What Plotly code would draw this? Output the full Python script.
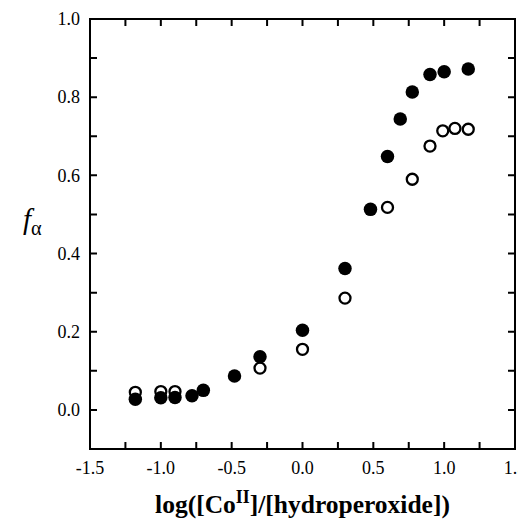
import plotly.graph_objects as go

# Data
filled_x = [-1.18, -1.0, -0.90, -0.78, -0.70, -0.48, -0.30, 0.0, 0.30, 0.48, 0.60, 0.69, 0.775, 0.90, 1.0, 1.17]
filled_y = [0.027, 0.031, 0.032, 0.036, 0.050, 0.087, 0.136, 0.204, 0.362, 0.513, 0.648, 0.744, 0.813, 0.858, 0.865, 0.872]

open_x = [-1.18, -1.0, -0.90, -0.30, 0.0, 0.30, 0.60, 0.775, 0.90, 0.99, 1.076, 1.17]
open_y = [0.045, 0.047, 0.047, 0.107, 0.155, 0.286, 0.518, 0.590, 0.675, 0.714, 0.720, 0.718]

# Axis ranges and ticks (labelled every other tick)
x_range = [-1.5, 1.5]
y_range = [-0.1, 1.0]
x_tickvals = [-1.5, -1.25, -1.0, -0.75, -0.5, -0.25, 0.0, 0.25, 0.5, 0.75, 1.0, 1.25, 1.5]
x_ticktext = ["-1.5", "", "-1.0", "", "-0.5", "", "0.0", "", "0.5", "", "1.0", "", "1.5"]
y_tickvals = [-0.1, 0.0, 0.1, 0.2, 0.3, 0.4, 0.5, 0.6, 0.7, 0.8, 0.9, 1.0]
y_ticktext = ["", "0.0", "", "0.2", "", "0.4", "", "0.6", "", "0.8", "", "1.0"]

font = "Liberation Serif"
W, H = 526, 523
ML, MR, MT, MB = 82, 19, 11, 82
PW, PH = W - ML - MR, H - MT - MB
TICKLEN = 7   # px

fig = go.Figure()

# open circles first so the filled ones sit on top where they overlap
fig.add_trace(go.Scatter(
    x=open_x, y=open_y, mode="markers",
    marker=dict(symbol="circle", size=11, color="white", line=dict(width=2.3, color="black")),
    showlegend=False, hoverinfo="skip"))
fig.add_trace(go.Scatter(
    x=filled_x, y=filled_y, mode="markers",
    marker=dict(symbol="circle", size=13.5, color="black", line=dict(width=0)),
    showlegend=False, hoverinfo="skip"))

axis_common = dict(
    showline=False, ticks="", showgrid=False, zeroline=False, tickmode="array",
    tickfont=dict(family=font, size=18, color="#000000"),
)
fig.update_xaxes(range=x_range, tickvals=x_tickvals, ticktext=x_ticktext,
                 ticklabelstandoff=6,
                 title=dict(text="<b>log([Co<sup>II</sup>]/[hydroperoxide])</b>",
                            font=dict(family=font, size=25.5, color="#000000"), standoff=18),
                 **axis_common)
fig.update_yaxes(range=y_range, tickvals=y_tickvals, ticktext=y_ticktext,
                 ticklabelstandoff=9,
                 **axis_common)

# inward ticks on all four sides, built as one path in paper coordinates
# from the tick arrays, followed by the frame itself
lx = TICKLEN / PH
ly = TICKLEN / PW
segs = []
for v in x_tickvals:
    p = (v - x_range[0]) / (x_range[1] - x_range[0])
    segs.append(f"M{p:.5f},0 L{p:.5f},{lx:.5f}")
    segs.append(f"M{p:.5f},1 L{p:.5f},{1 - lx:.5f}")
for v in y_tickvals:
    q = (v - y_range[0]) / (y_range[1] - y_range[0])
    segs.append(f"M0,{q:.5f} L{ly:.5f},{q:.5f}")
    segs.append(f"M1,{q:.5f} L{1 - ly:.5f},{q:.5f}")
segs.append("M0,0 L1,0 L1,1 L0,1 Z")
fig.add_shape(type="path", xref="paper", yref="paper", path=" ".join(segs),
              line=dict(color="black", width=2), layer="above")

fig.add_annotation(text="<i>f</i><sub>α</sub>", xref="paper", yref="paper",
                   x=-0.163, y=0.53, showarrow=False,
                   font=dict(family=font, size=29, color="#000000"))

fig.update_layout(
    template="none",
    width=W, height=H,
    margin=dict(l=ML, r=MR, t=MT, b=MB),
    plot_bgcolor="white", paper_bgcolor="white",
    showlegend=False,
)
fig.write_html("out.html")
